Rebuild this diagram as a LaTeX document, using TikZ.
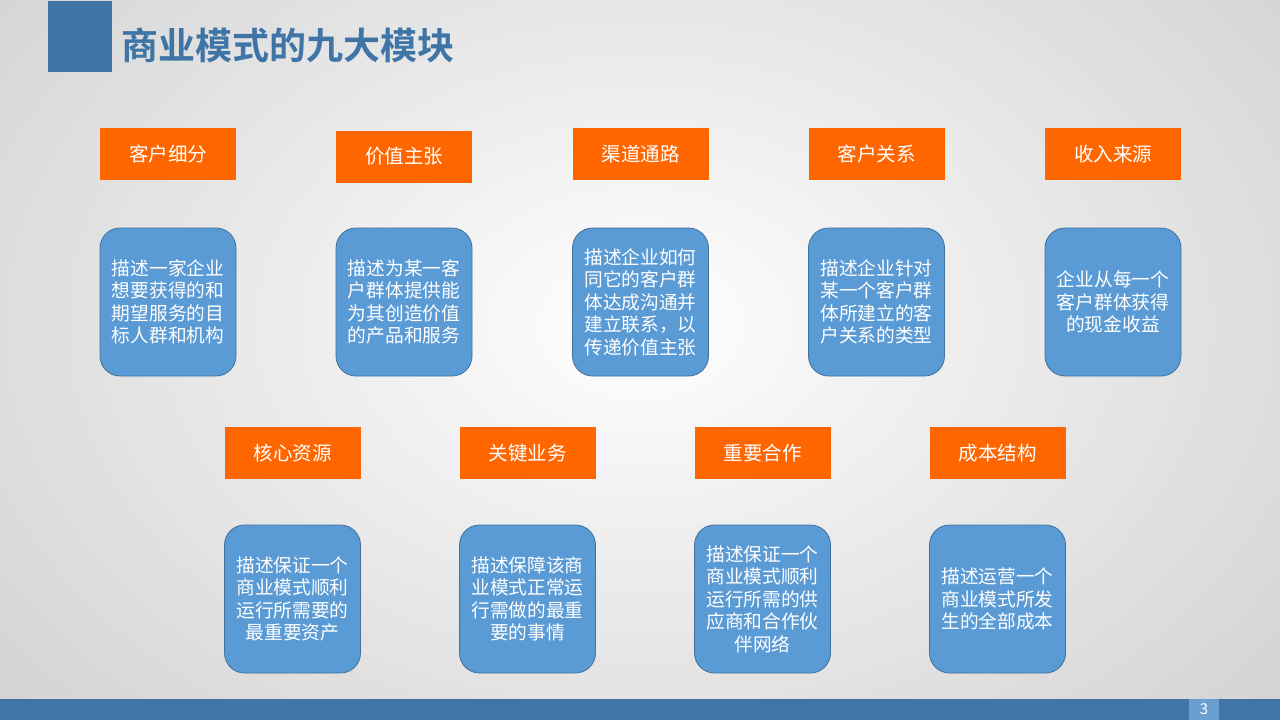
\documentclass[tikz,border=0pt]{standalone}
\usepackage{fontspec}
\setmainfont{Noto Sans CJK SC}
\newfontfamily\cjkbold{Noto Sans CJK SC Bold}
\definecolor{titleblue}{HTML}{3E75A6}
\definecolor{barblue}{HTML}{3F76A5}
\definecolor{pageblue}{HTML}{6A9FD0}
\definecolor{boxorange}{HTML}{FF6600}
\definecolor{boxblue}{HTML}{5B9BD5}
\definecolor{boxedge}{HTML}{41719C}
\begin{document}
\begin{tikzpicture}[x=1pt,y=-1pt,
  label/.style={fill=boxorange,minimum width=136pt,minimum height=52pt,inner sep=0pt,text=white,font=\fontsize{19.5}{23}\selectfont},
  desc/.style={fill=boxblue,draw=boxedge,line width=0.8pt,rounded corners=20pt,minimum width=136pt,minimum height=148pt,inner sep=0pt,text=white,align=center,font=\fontsize{18.7}{22.5}\selectfont}]
\useasboundingbox (0,0) rectangle (1280,720);
\shade[inner color=white,outer color=black!24] (-180,-250) rectangle (1460,900);
\fill[white,opacity=0.3] (0,0) rectangle (1280,720);
% title
\fill[titleblue] (48,1) rectangle (112,72);
\node[anchor=west,text=titleblue,font=\cjkbold\fontsize{37}{42}\selectfont,inner sep=0pt] (title) at (121,45) {商业模式的九大模块};
% bottom bar
\fill[barblue] (0,699) rectangle (1280,720);
\node[fill=pageblue,minimum width=30pt,minimum height=21pt,inner sep=0pt,text=white,font=\fontsize{15}{17}\selectfont] (page) at (1204,709.5) {3};
% row 1 labels
\node[label] (l1) at (168,154) {客户细分};
\node[label] (l2) at (404,156.5) {价值主张};
\node[label] (l3) at (640.5,154) {渠道通路};
\node[label] (l4) at (876.5,154) {客户关系};
\node[label] (l5) at (1113,154) {收入来源};
% row 1 descriptions
\node[desc] (d1) at (168,302) {描述一家企业\\想要获得的和\\期望服务的目\\标人群和机构};
\node[desc] (d2) at (404,302) {描述为某一客\\户群体提供能\\为其创造价值\\的产品和服务};
\node[desc] (d3) at (640.5,302) {描述企业如何\\同它的客户群\\体达成沟通并\\建立联系，以\\传递价值主张};
\node[desc] (d4) at (876.5,302) {描述企业针对\\某一个客户群\\体所建立的客\\户关系的类型};
\node[desc] (d5) at (1113,302) {企业从每一个\\客户群体获得\\的现金收益};
% row 2 labels
\node[label] (l6) at (292.5,453) {核心资源};
\node[label] (l7) at (527.5,453) {关键业务};
\node[label] (l8) at (762.5,453) {重要合作};
\node[label] (l9) at (997.5,453) {成本结构};
% row 2 descriptions
\node[desc] (d6) at (292.5,599) {描述保证一个\\商业模式顺利\\运行所需要的\\最重要资产};
\node[desc] (d7) at (527.5,599) {描述保障该商\\业模式正常运\\行需做的最重\\要的事情};
\node[desc] (d8) at (762.5,599) {描述保证一个\\商业模式顺利\\运行所需的供\\应商和合作伙\\伴网络};
\node[desc] (d9) at (997.5,599) {描述运营一个\\商业模式所发\\生的全部成本};
\end{tikzpicture}
\end{document}
